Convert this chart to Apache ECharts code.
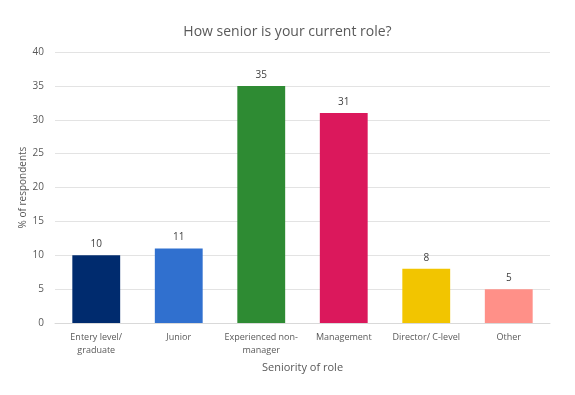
<!DOCTYPE html>
<html><head><meta charset="utf-8">
<script src="https://cdn.jsdelivr.net/npm/echarts@6/dist/echarts.min.js"></script>
<style>html,body{margin:0;padding:0;background:#fff}#c{width:575px;height:395px}</style>
</head><body><div id="c"></div>
<script>
const categories = ["Entery level/\ngraduate", "Junior", "Experienced non-\nmanager", "Management", "Director/ C-level", "Other"];
const values = [10, 11, 35, 31, 8, 5];
const colors = ["#002B6E", "#3070CF", "#2E8B33", "#DB185C", "#F2C500", "#FF9088"];
const yTicks = [0, 5, 10, 15, 20, 25, 30, 35, 40];

const font = "'Open Sans', 'Noto Sans', sans-serif";
const chart = echarts.init(document.getElementById('c'));
chart.setOption({
  animation: false,
  title: { text: "How senior is your current role?", left: 'center', top: 20,
    textStyle: { fontFamily: font, fontSize: 14, fontWeight: 'normal', color: '#595959' } },
  grid: { left: 55, right: 25, top: 52, bottom: 72 },
  xAxis: {
    type: 'category', data: categories,
    name: "Seniority of role", nameLocation: 'middle', nameGap: 36,
    nameTextStyle: { fontFamily: font, fontSize: 11, color: '#595959' },
    axisLine: { lineStyle: { color: '#D9D9D9' } },
    axisTick: { show: false },
    axisLabel: { fontFamily: font, fontSize: 9, color: '#595959', interval: 0, lineHeight: 13, margin: 8 }
  },
  yAxis: {
    type: 'value', min: yTicks[0], max: yTicks[yTicks.length - 1], interval: 5,
    name: "% of respondents", nameLocation: 'middle', nameGap: 27, nameRotate: 90,
    nameMoveOverlap: false,
    nameTextStyle: { fontFamily: font, fontSize: 10, color: '#595959' },
    axisLine: { show: false }, axisTick: { show: false },
    axisLabel: { fontFamily: font, fontSize: 10, color: '#595959', margin: 11 },
    splitLine: { lineStyle: { color: '#E3E3E3' } }
  },
  series: [{
    type: 'bar',
    data: values.map((v, i) => ({ value: v, itemStyle: { color: colors[i] } })),
    barCategoryGap: '42%',
    label: { show: true, position: 'top', distance: 6, fontFamily: font, fontSize: 10, color: '#404040' }
  }]
});
</script></body></html>
